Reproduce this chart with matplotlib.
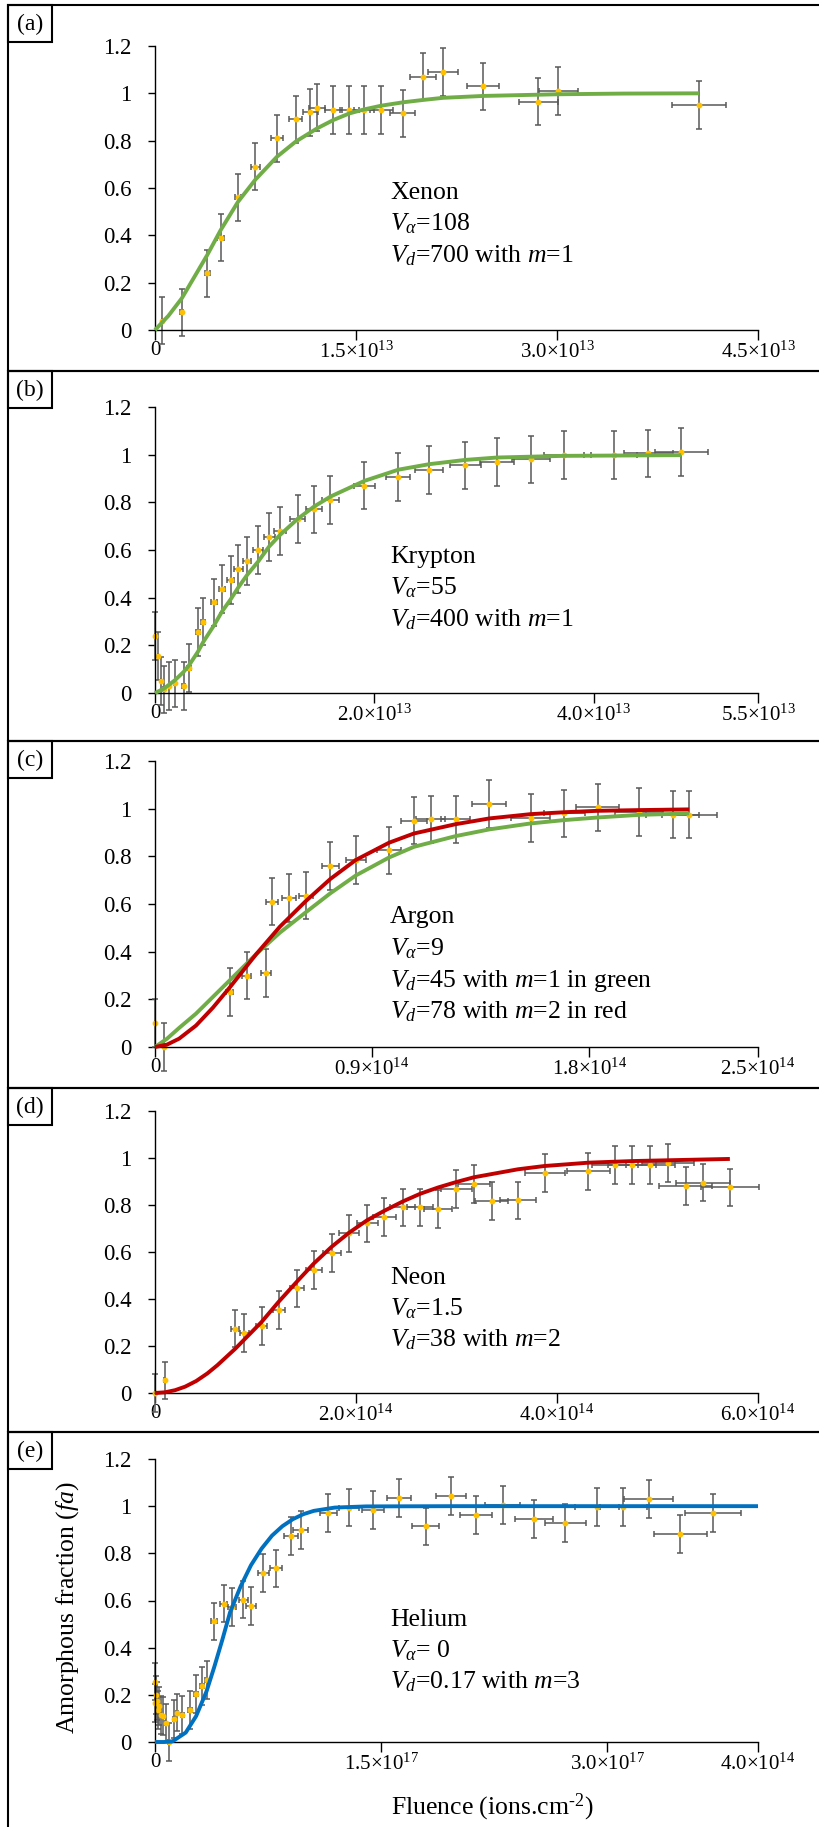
import matplotlib
matplotlib.use("Agg")
import matplotlib.pyplot as plt
from matplotlib.patches import Rectangle

plt.rcParams["font.family"] = ["Liberation Serif", "DejaVu Serif"]
plt.rcParams["mathtext.fontset"] = "custom"
plt.rcParams["mathtext.rm"] = "Liberation Serif"
plt.rcParams["mathtext.it"] = "Liberation Serif:italic"
plt.rcParams["mathtext.bf"] = "Liberation Serif:bold"

# (a) Xenon, fluence in 1e13 ions/cm2
xe_fluence = [0.05, 0.20, 0.39, 0.49, 0.62, 0.75, 0.91, 1.05, 1.16, 1.21, 1.33,
              1.45, 1.56, 1.69, 1.85, 2.00, 2.15, 2.45, 2.86, 3.01, 4.06]
xe_fa = [0.04, 0.075, 0.24, 0.39, 0.56, 0.69, 0.81, 0.89, 0.92, 0.94, 0.93,
         0.93, 0.93, 0.93, 0.915, 1.07, 1.09, 1.03, 0.965, 1.01, 0.95]
xe_fluence_err = [0.0, 0.01, 0.02, 0.025, 0.025, 0.03, 0.047, 0.05, 0.055, 0.06, 0.065,
                  0.07, 0.075, 0.087, 0.093, 0.10, 0.11, 0.12, 0.145, 0.145, 0.20]
xe_fa_err = 0.1
xe_fit_fluence = [0, 0.1, 0.2, 0.39, 0.49, 0.62, 0.75, 0.91, 1.05, 1.21, 1.33, 1.45,
                  1.56, 1.69, 1.85, 2.0, 2.15, 2.45, 3.0, 3.5, 4.06]
xe_fit_fa = [0, 0.06, 0.134, 0.317, 0.422, 0.542, 0.636, 0.732, 0.796, 0.852, 0.887,
             0.915, 0.932, 0.948, 0.962, 0.972, 0.981, 0.989, 0.996, 0.999, 1.0]
xe_ticks = [0, 1.5, 3.0, 4.5]
xe_ticklabels = ["0", r"$1.5{\times}10^{13}$", r"$3.0{\times}10^{13}$", r"$4.5{\times}10^{13}$"]
xe_notes = ["Xenon", r"$V_{\alpha}$=108", r"$V_d$=700 with $m$=1"]

# (b) Krypton, fluence in 1e13 ions/cm2
kr_fluence = [0.0, 0.025, 0.055, 0.08, 0.13, 0.18, 0.26, 0.31, 0.39, 0.44, 0.54,
              0.61, 0.69, 0.76, 0.84, 0.94, 1.04, 1.14, 1.30, 1.45, 1.60, 1.91,
              2.22, 2.50, 2.83, 3.12, 3.43, 3.73, 4.19, 4.50, 4.80]
kr_fa = [0.24, 0.155, 0.05, 0.015, 0.03, 0.04, 0.03, 0.105, 0.255, 0.30, 0.38,
         0.435, 0.475, 0.52, 0.555, 0.60, 0.655, 0.68, 0.73, 0.77, 0.81, 0.87,
         0.905, 0.935, 0.955, 0.97, 0.98, 1.0, 1.0, 1.005, 1.01]
kr_fluence_err = [0.0, 0.0, 0.0, 0.005, 0.005, 0.01, 0.01, 0.015, 0.02, 0.02, 0.025,
                  0.03, 0.035, 0.04, 0.04, 0.045, 0.05, 0.055, 0.065, 0.07, 0.08, 0.095,
                  0.11, 0.125, 0.14, 0.155, 0.17, 0.185, 0.21, 0.225, 0.24]
kr_fa_err = 0.1
kr_fit_fluence = [0, 0.08, 0.18, 0.26, 0.31, 0.39, 0.44, 0.54, 0.61, 0.69, 0.76, 0.84,
                  0.94, 1.04, 1.14, 1.30, 1.45, 1.60, 1.91, 2.22, 2.50, 2.83, 3.12, 3.73, 4.80]
kr_fit_fa = [0, 0.018, 0.053, 0.088, 0.116, 0.172, 0.214, 0.285, 0.341, 0.393, 0.443,
             0.495, 0.551, 0.614, 0.663, 0.73, 0.782, 0.824, 0.89, 0.937, 0.96, 0.978,
             0.988, 0.995, 0.998]
kr_ticks = [0, 2.0, 4.0, 5.5]
kr_ticklabels = ["0", r"$2.0{\times}10^{13}$", r"$4.0{\times}10^{13}$", r"$5.5{\times}10^{13}$"]
kr_notes = ["Krypton", r"$V_{\alpha}$=55", r"$V_d$=400 with $m$=1"]

# (c) Argon, fluence in 1e14 ions/cm2
ar_fluence = [0.0, 0.036, 0.31, 0.38, 0.46, 0.485, 0.556, 0.626, 0.727, 0.833, 0.97,
              1.074, 1.143, 1.247, 1.386, 1.557, 1.696, 1.835, 2.008, 2.146, 2.215]
ar_fa = [0.10, 0.0, 0.23, 0.30, 0.31, 0.61, 0.625, 0.635, 0.76, 0.785, 0.825,
         0.95, 0.955, 0.955, 1.02, 0.96, 0.98, 1.005, 0.985, 0.975, 0.975]
ar_fluence_err = [0.0, 0.0, 0.015, 0.02, 0.02, 0.025, 0.03, 0.03, 0.035, 0.04, 0.05,
                  0.055, 0.06, 0.06, 0.07, 0.08, 0.085, 0.09, 0.10, 0.11, 0.115]
ar_fa_err = 0.1
ar_fit_fluence = [0, 0.05, 0.1, 0.17, 0.24, 0.31, 0.42, 0.518, 0.625, 0.727, 0.833, 0.97,
                  1.074, 1.247, 1.386, 1.557, 1.696, 1.835, 2.008, 2.215]
ar_fit_m1 = [0, 0.035, 0.08, 0.14, 0.21, 0.28, 0.39, 0.48, 0.565, 0.645, 0.72, 0.795,
             0.84, 0.885, 0.913, 0.938, 0.952, 0.963, 0.974, 0.98]
ar_fit_m2 = [0, 0.01, 0.035, 0.09, 0.165, 0.25, 0.39, 0.505, 0.612, 0.705, 0.785, 0.857,
             0.896, 0.935, 0.959, 0.977, 0.985, 0.991, 0.994, 0.997]
ar_ticks = [0, 0.9, 1.8, 2.5]
ar_ticklabels = ["0", r"$0.9{\times}10^{14}$", r"$1.8{\times}10^{14}$", r"$2.5{\times}10^{14}$"]
ar_notes = ["Argon", r"$V_{\alpha}$=9", r"$V_d$=45 with $m$=1 in green",
            r"$V_d$=78 with $m$=2 in red"]

# (d) Neon, fluence in 1e14 ions/cm2
ne_fluence = [0.0, 0.097, 0.80, 0.887, 1.06, 1.23, 1.41, 1.58, 1.76, 1.93, 2.11,
              2.28, 2.465, 2.64, 2.82, 3.0, 3.17, 3.35, 3.61, 3.88, 4.31, 4.58,
              4.75, 4.93, 5.105, 5.28, 5.456, 5.72]
ne_fa = [0.0, 0.054, 0.274, 0.256, 0.286, 0.352, 0.445, 0.523, 0.597, 0.679, 0.722,
         0.75, 0.79, 0.79, 0.783, 0.869, 0.89, 0.818, 0.82, 0.936, 0.943, 0.969,
         0.969, 0.97, 0.98, 0.882, 0.895, 0.875]
ne_fluence_err = [0.0, 0.005, 0.04, 0.045, 0.055, 0.06, 0.07, 0.08, 0.09, 0.095, 0.105,
                  0.115, 0.125, 0.13, 0.14, 0.15, 0.16, 0.165, 0.18, 0.195, 0.215, 0.23,
                  0.24, 0.245, 0.255, 0.265, 0.27, 0.285]
ne_fa_err = 0.08
ne_fit_fluence = [0, 0.1, 0.2, 0.3, 0.41, 0.52, 0.62, 0.8, 1.06, 1.23, 1.41, 1.58, 1.757,
                  1.934, 2.11, 2.28, 2.465, 2.64, 2.82, 3.0, 3.174, 3.612, 3.877, 4.31,
                  4.753, 5.28, 5.72]
ne_fit_fa = [0, 0.003, 0.012, 0.027, 0.051, 0.083, 0.118, 0.189, 0.302, 0.388, 0.473,
             0.551, 0.622, 0.683, 0.735, 0.775, 0.815, 0.848, 0.875, 0.898, 0.918,
             0.952, 0.966, 0.98, 0.987, 0.992, 0.996]
ne_ticks = [0, 2.0, 4.0, 6.0]
ne_ticklabels = ["0", r"$2.0{\times}10^{14}$", r"$4.0{\times}10^{14}$", r"$6.0{\times}10^{14}$"]
ne_notes = ["Neon", r"$V_{\alpha}$=1.5", r"$V_d$=38 with $m$=2"]

# (e) Helium
he_fluence = [0.0, 0.007, 0.0, 0.015, 0.025, 0.022, 0.04, 0.051, 0.071, 0.09, 0.126,
              0.148, 0.181, 0.232, 0.27, 0.312, 0.347, 0.394, 0.456, 0.509, 0.585,
              0.637, 0.718, 0.803, 0.904, 0.966, 1.15, 1.286, 1.445, 1.62, 1.795,
              1.963, 2.131, 2.306, 2.517, 2.72, 2.934, 3.107, 3.275, 3.485, 3.704]
he_fa = [0.256, 0.198, 0.166, 0.173, 0.152, 0.135, 0.116, 0.109, 0.081, 0.0, 0.099,
         0.125, 0.116, 0.137, 0.205, 0.239, 0.262, 0.511, 0.587, 0.573, 0.604,
         0.577, 0.717, 0.736, 0.874, 0.899, 0.971, 0.994, 0.983, 1.036, 0.914,
         1.044, 0.962, 1.005, 0.945, 0.928, 0.997, 0.997, 1.031, 0.882, 0.972]
he_fluence_err = [0, 0, 0, 0, 0, 0, 0.002, 0.003, 0.004, 0.005, 0.006,
                  0.007, 0.009, 0.012, 0.014, 0.016, 0.017, 0.02, 0.023, 0.025, 0.029,
                  0.032, 0.036, 0.04, 0.045, 0.048, 0.058, 0.064, 0.072, 0.081, 0.09,
                  0.098, 0.107, 0.115, 0.126, 0.136, 0.147, 0.155, 0.164, 0.174, 0.185]
he_fa_err = 0.08
he_fit_fluence = [0, 0.06, 0.117, 0.204, 0.273, 0.342, 0.394, 0.446, 0.498, 0.568, 0.637,
                  0.707, 0.776, 0.845, 0.915, 0.984, 1.053, 1.192, 1.40, 2.0, 4.0]
he_fit_fa = [0, 0.0, 0.003, 0.04, 0.11, 0.215, 0.32, 0.432, 0.55, 0.66, 0.75,
             0.82, 0.875, 0.915, 0.945, 0.966, 0.98, 0.994, 0.999, 1.0, 1.0]
he_ticks = [0, 1.5, 3.0, 4.0]
he_ticklabels = ["0", r"$1.5{\times}10^{17}$", r"$3.0{\times}10^{17}$", r"$4.0{\times}10^{14}$"]
he_notes = ["Helium", r"$V_{\alpha}$= 0", r"$V_d$=0.17 with $m$=3"]

panel_letters = ["(a)", "(b)", "(c)", "(d)", "(e)"]

GREEN = "#70AD47"
RED = "#C00000"
BLUE = "#0070C0"

W, H = 820, 1827
fig = plt.figure(figsize=(W / 100, H / 100), dpi=100)


def fx(px):
    return px / W


def fy(py):
    return 1 - py / H


# panel frames and axes extents in pixels (top, bottom)
frames = [(5, 371), (371, 741), (741, 1088), (1088, 1432), (1432, 1840)]
axes_px = [(46, 330), (407, 693), (761, 1047), (1111, 1393), (1459, 1742)]
note_top = [0.461, 0.456, 0.432, 0.386, 0.41]

panels = [
    (xe_fluence, xe_fa, xe_fluence_err, xe_fa_err,
     [(xe_fit_fluence, xe_fit_fa, GREEN)], xe_ticks, xe_ticklabels, xe_notes),
    (kr_fluence, kr_fa, kr_fluence_err, kr_fa_err,
     [(kr_fit_fluence, kr_fit_fa, GREEN)], kr_ticks, kr_ticklabels, kr_notes),
    (ar_fluence, ar_fa, ar_fluence_err, ar_fa_err,
     [(ar_fit_fluence, ar_fit_m1, GREEN), (ar_fit_fluence, ar_fit_m2, RED)],
     ar_ticks, ar_ticklabels, ar_notes),
    (ne_fluence, ne_fa, ne_fluence_err, ne_fa_err,
     [(ne_fit_fluence, ne_fit_fa, RED)], ne_ticks, ne_ticklabels, ne_notes),
    (he_fluence, he_fa, he_fluence_err, he_fa_err,
     [(he_fit_fluence, he_fit_fa, BLUE)], he_ticks, he_ticklabels, he_notes),
]

for i, (x, y, xerr, yerr, fits, ticks, ticklabels, notes) in enumerate(panels):
    top, bottom = frames[i]
    # outer frame of the panel
    fig.patches.append(Rectangle((fx(8), fy(bottom)), fx(840) - fx(8), fy(top) - fy(bottom),
                                 transform=fig.transFigure, fill=False,
                                 edgecolor="black", linewidth=1.5))
    # letter box in the top left corner
    fig.patches.append(Rectangle((fx(8), fy(top + 37)), fx(52) - fx(8), fy(top) - fy(top + 37),
                                 transform=fig.transFigure, fill=False,
                                 edgecolor="black", linewidth=1.5))
    fig.text(fx(30), fy(top + 19), panel_letters[i], ha="center", va="center", fontsize=17)

    at, ab = axes_px[i]
    ax = fig.add_axes([fx(155), fy(ab), fx(758) - fx(155), fy(at) - fy(ab)])

    eb = ax.errorbar(x, y, xerr=xerr, yerr=yerr, fmt="o", ms=3.2,
                     mfc="#FFC000", mec="#FFC000", ecolor="#595959",
                     elinewidth=1.1, capsize=2, capthick=1.1, zorder=2)
    for art in eb.get_children():
        art.set_clip_on(False)

    for fit_x, fit_y, color in fits:
        ax.plot(fit_x, fit_y, color=color, lw=2.8, zorder=3,
                solid_capstyle="butt", solid_joinstyle="round", clip_on=False)

    ax.set_xlim(0, ticks[-1])
    ax.set_ylim(0, 1.2)
    ax.set_xticks(ticks)
    ax.set_xticklabels(ticklabels)
    ax.set_yticks([0, 0.2, 0.4, 0.6, 0.8, 1.0, 1.2])
    ax.set_yticklabels(["0", "0.2", "0.4", "0.6", "0.8", "1", "1.2"])
    ax.tick_params(axis="y", direction="out", length=5, width=1, pad=12, labelsize=16.5)
    ax.tick_params(axis="x", direction="out", length=7, width=1, pad=1, labelsize=15)

    for side in ("top", "right"):
        ax.spines[side].set_visible(False)
    for side in ("left", "bottom"):
        ax.spines[side].set_linewidth(1.0)
    ax.patch.set_alpha(0)

    for j, line in enumerate(notes):
        ax.text(0.39, note_top[i] - j * 0.111, line, transform=ax.transAxes,
                fontsize=18.5, ha="left", va="baseline")

fig.text(fx(68), fy(1608), r"Amorphous fraction ($fa$)", rotation=90,
         ha="center", va="center", fontsize=18.5)
fig.text(fx(492), fy(1807), r"Fluence (ions.cm$^{\text{-}2}$)",
         ha="center", va="center", fontsize=18.5)

fig.savefig("out.png", dpi=100, facecolor="white")
